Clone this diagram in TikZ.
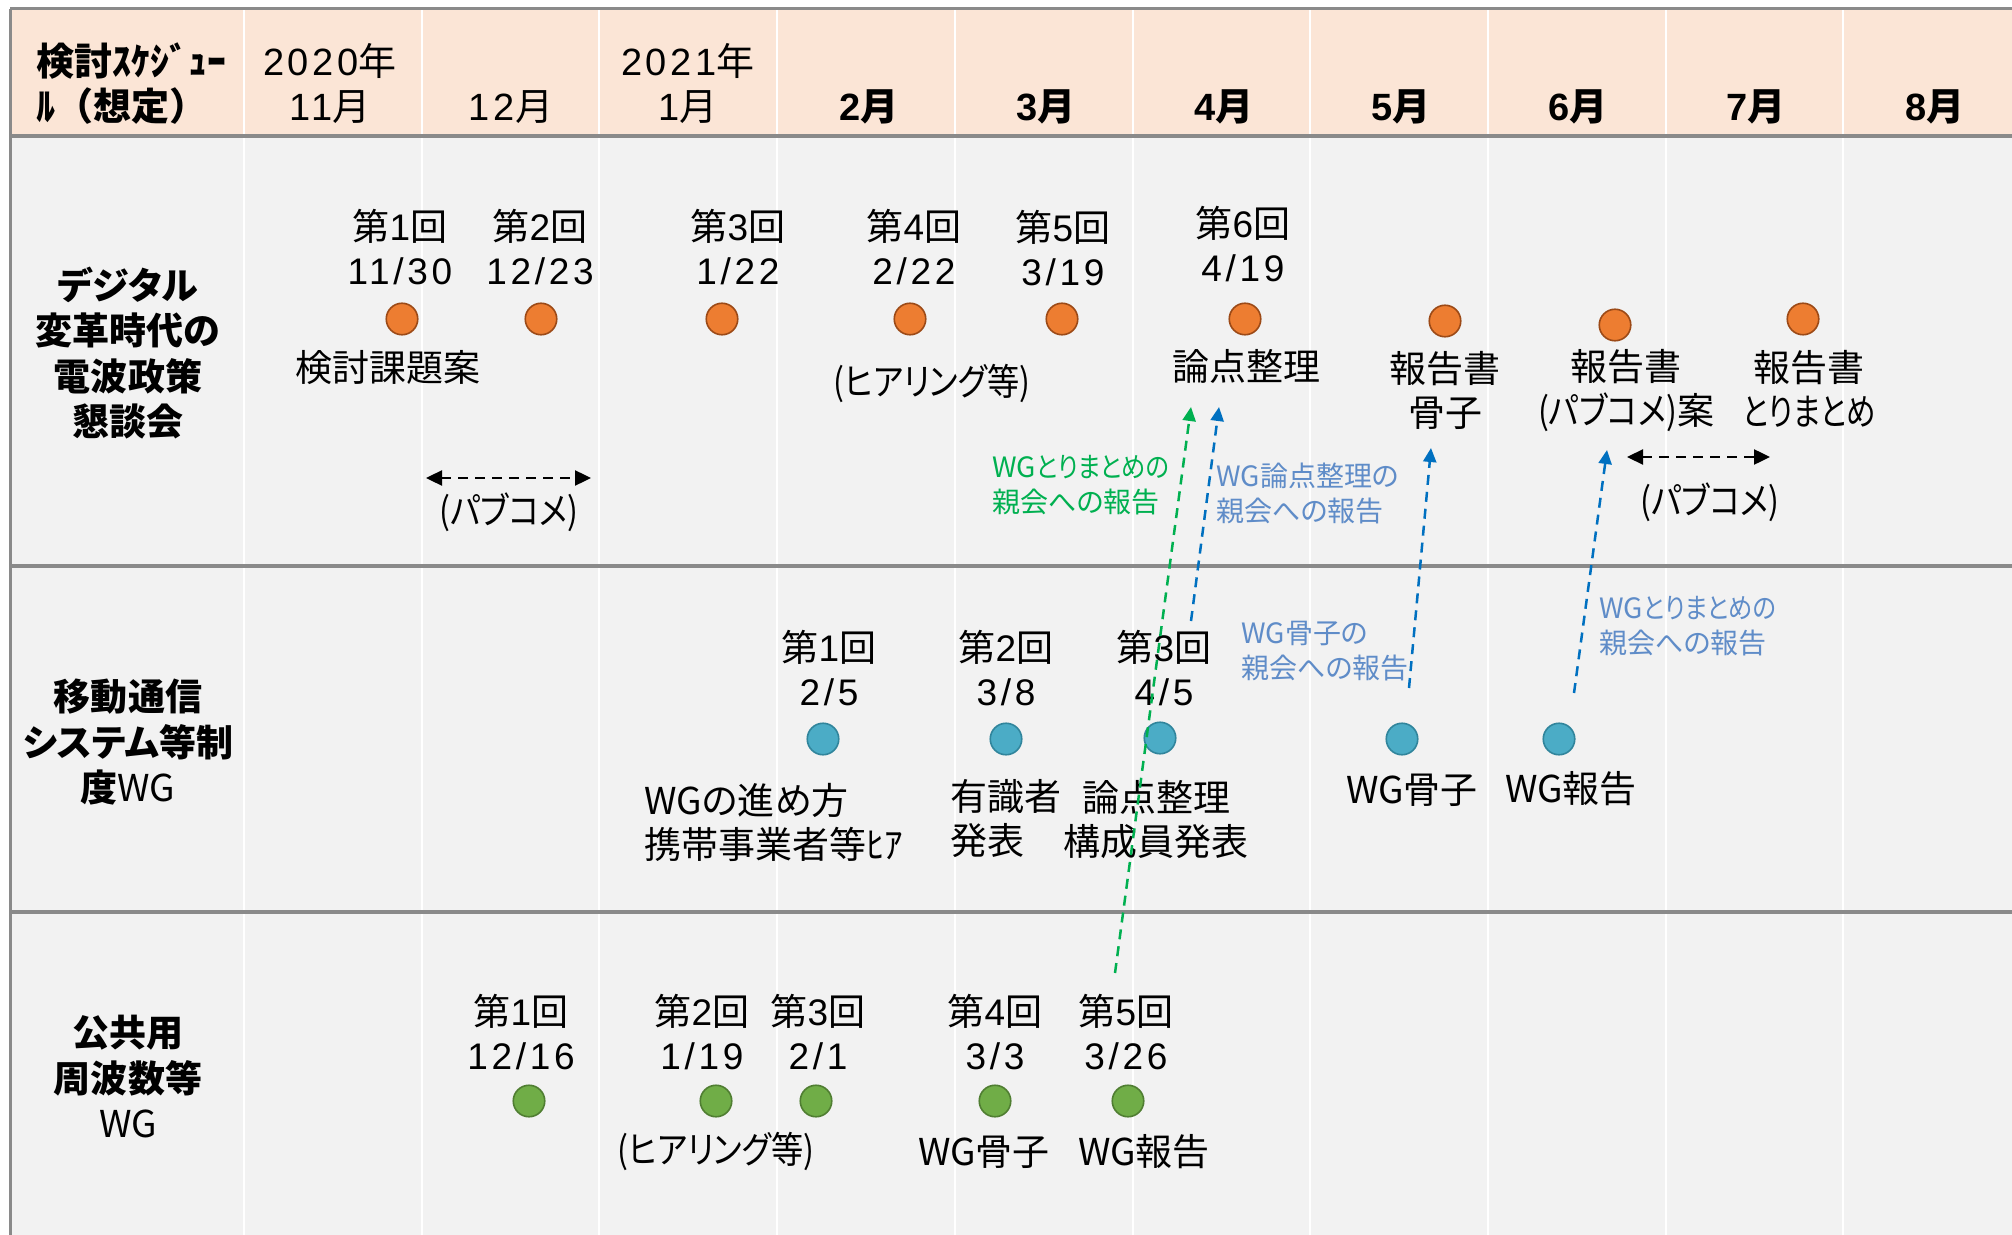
\documentclass[tikz,border=0pt]{standalone}
\usepackage{fontspec}
\setmainfont{Noto Sans CJK JP}[RawFeature=+palt]
\newfontfamily\nopalt{Noto Sans CJK JP}
\newfontfamily\latinf{Liberation Sans}[LetterSpace=10]
\usetikzlibrary{arrows.meta}
\definecolor{hdr}{HTML}{FBE5D6}
\definecolor{bodybg}{HTML}{F2F2F2}
\definecolor{gridgray}{HTML}{8A8A8A}
\definecolor{orfill}{HTML}{ED7D31}
\definecolor{ordraw}{HTML}{9C4A17}
\definecolor{blfill}{HTML}{4BACC6}
\definecolor{bldraw}{HTML}{31859C}
\definecolor{grfill}{HTML}{70AD47}
\definecolor{grdraw}{HTML}{507E32}
\definecolor{arrgreen}{HTML}{00B050}
\definecolor{arrblue}{HTML}{0070C0}
\definecolor{lblblue}{HTML}{5F8CC8}
\newcommand\Ls{\rule[-0.12em]{0pt}{1em}}
\newcommand\dd[1]{{\latinf #1}}
\newcommand\nar[1]{\scalebox{0.87}[1]{#1}}
\tikzset{
  lbl/.style={inner sep=0pt, align=center, font=\fontsize{18.5}{22}\selectfont},
  lbll/.style={lbl, align=left, anchor=west},
  hd/.style={inner sep=0pt, align=center, font=\fontsize{19}{22.5}\selectfont},
  hdb/.style={inner sep=0pt, align=center, font=\fontsize{19}{22.5}\selectfont\bfseries},
  rowlbl/.style={inner sep=0pt, align=center, font=\fontsize{18.5}{22.6}\selectfont\bfseries},
  notelbl/.style={inner sep=0pt, align=left, anchor=west, font=\fontsize{14}{17.5}\selectfont},
  evdot/.style={circle, minimum size=15.75pt, inner sep=0pt, line width=0.8pt},
  odot/.style={evdot, fill=orfill, draw=ordraw},
  bdot/.style={evdot, fill=blfill, draw=bldraw},
  gdot/.style={evdot, fill=grfill, draw=grdraw},
  rep/.style={dash pattern=on 5pt off 3.5pt, line width=1.25pt, -{Triangle[length=7pt,width=6.5pt]}},
  pubc/.style={black, dash pattern=on 5pt off 3.5pt, line width=1.2pt, {Triangle[length=8pt,width=7.5pt]}-{Triangle[length=8pt,width=7.5pt]}},
  hline/.style={gridgray, line width=2pt},
}
\begin{document}
\begin{tikzpicture}[x=0.5pt,y=-0.5pt]
\useasboundingbox (0,0) rectangle (2012,1235);
\fill[white] (0,0) rectangle (2012,1235);
% backgrounds
\fill[hdr] (10,9) rectangle (2012,136);
\fill[bodybg] (10,136) rectangle (2012,1235);
\foreach \k in {0,...,9} \draw[white, line width=1pt] ({244+177.7*\k},9) -- ({244+177.7*\k},1235);
\draw[gridgray, line width=1.5pt] (10,9) -- (2012,9);
\draw[hline] (10,136) -- (2012,136);
\draw[hline] (10,566) -- (2012,566);
\draw[hline] (10,912) -- (2012,912);
\draw[gridgray, line width=1.5pt] (10,9) -- (10,1235);

% header
\node[hdb, align=left, anchor=west] (hcorner) at (36,83.5) {\Ls 検討ｽｹｼﾞｭｰ\\\Ls {\nopalt ﾙ（想定）}};
\node[hd] (m11) at (330,83.5) {\Ls \dd{2020}年\\\Ls \dd{11}月};
\node[hd] (m12) at (511,106) {\Ls \dd{12}月};
\node[hd] (m01) at (688,83.5) {\Ls \dd{2021}年\\\Ls \dd{1}月};
\node[hdb] (m02) at (869,106) {\Ls \dd{2}月};
\node[hdb] (m03) at (1046,106) {\Ls \dd{3}月};
\node[hdb] (m04) at (1224,106) {\Ls \dd{4}月};
\node[hdb] (m05) at (1401,106) {\Ls \dd{5}月};
\node[hdb] (m06) at (1578,106) {\Ls \dd{6}月};
\node[hdb] (m07) at (1756,106) {\Ls \dd{7}月};
\node[hdb] (m08) at (1935,106) {\Ls \dd{8}月};

% row labels
\node[rowlbl] (row1) at (128,353.5) {\Ls デジタル\\\Ls 変革時代の\\\Ls 電波政策\\\Ls 懇談会};
\node[rowlbl] (row2) at (128,742) {\Ls 移動通信\\\Ls システム等制\\\Ls 度{\mdseries WG}};
\node[rowlbl] (row3) at (128,1078) {\Ls 公共用\\\Ls 周波数等\\\Ls {\mdseries WG}};

% row 1
\node[lbl] (a1) at (400,248) {\Ls 第\dd{1}回\\\Ls \dd{11/30}};
\node[lbl] (a2) at (540,248) {\Ls 第\dd{2}回\\\Ls \dd{12/23}};
\node[lbl] (a3) at (738,248) {\Ls 第\dd{3}回\\\Ls \dd{1/22}};
\node[lbl] (a4) at (914,248) {\Ls 第\dd{4}回\\\Ls \dd{2/22}};
\node[lbl] (a5) at (1063,249) {\Ls 第\dd{5}回\\\Ls \dd{3/19}};
\node[lbl] (a6) at (1243,245) {\Ls 第\dd{6}回\\\Ls \dd{4/19}};
\node[odot] (c1) at (402,319) {};
\node[odot] (c2) at (541,319) {};
\node[odot] (c3) at (722,319) {};
\node[odot] (c4) at (910,319) {};
\node[odot] (c5) at (1062,319) {};
\node[odot] (c6) at (1245,319) {};
\node[odot] (c7) at (1445,321) {};
\node[odot] (c8) at (1615,325) {};
\node[odot] (c9) at (1803,319) {};
\node[lbl] (b1) at (388,367) {\Ls 検討課題案};
\node[lbl] (b4) at (932,383) {\Ls \nar{(ヒアリング等)}};
\node[lbl] (b6) at (1246,366) {\Ls 論点整理};
\node[lbl] (b7) at (1445,390) {\Ls 報告書\\\Ls 骨子};
\node[lbl] (b8) at (1626,390) {\Ls 報告書\\\Ls \nar{(パブコメ)}案};
\node[lbl] (b9) at (1809,389) {\Ls 報告書\\\Ls \scalebox{0.8}[1]{とりまとめ}};
\node[lbl] (p1) at (509,512) {\Ls \nar{(パブコメ)}};
\node[lbl] (p2) at (1710,502) {\Ls \nar{(パブコメ)}};
\coordinate (p1a) at (426,478);
\coordinate (p1b) at (591,478);
\coordinate (p2a) at (1627,457);
\coordinate (p2b) at (1770,457);
\draw[pubc] (p1a) -- (p1b);
\draw[pubc] (p2a) -- (p2b);

% row 2
\node[lbl] (d1) at (829,669) {\Ls 第\dd{1}回\\\Ls \dd{2/5}};
\node[lbl] (d2) at (1006,669) {\Ls 第\dd{2}回\\\Ls \dd{3/8}};
\node[lbl] (d3) at (1164,669) {\Ls 第\dd{3}回\\\Ls \dd{4/5}};
\node[bdot] (e1) at (823,739) {};
\node[bdot] (e2) at (1006,739) {};
\node[bdot] (e3) at (1160,738) {};
\node[bdot] (e4) at (1402,739) {};
\node[bdot] (e5) at (1559,739) {};
\node[lbll] (f1) at (644,822) {\Ls WGの進め方\\\Ls 携帯事業者等ﾋｱ};
\node[lbll] (f2) at (950,818) {\Ls 有識者\\\Ls 発表};
\node[lbl] (f3) at (1156,819) {\Ls 論点整理\\\Ls 構成員発表};
\node[lbl] (f4) at (1412,789) {\Ls WG骨子};
\node[lbl] (f5) at (1571,788) {\Ls WG報告};

% row 3
\node[lbl] (g1) at (521,1033) {\Ls 第\dd{1}回\\\Ls \dd{12/16}};
\node[lbl] (g2) at (702,1033) {\Ls 第\dd{2}回\\\Ls \dd{1/19}};
\node[lbl] (g3) at (818,1033) {\Ls 第\dd{3}回\\\Ls \dd{2/1}};
\node[lbl] (g4) at (995,1033) {\Ls 第\dd{4}回\\\Ls \dd{3/3}};
\node[lbl] (g5) at (1126,1033) {\Ls 第\dd{5}回\\\Ls \dd{3/26}};
\node[gdot] (h1) at (529,1101) {};
\node[gdot] (h2) at (716,1101) {};
\node[gdot] (h3) at (816,1101) {};
\node[gdot] (h4) at (995,1101) {};
\node[gdot] (h5) at (1128,1101) {};
\node[lbl] (i2) at (716,1151) {\Ls \nar{(ヒアリング等)}};
\node[lbl] (i4) at (984,1151) {\Ls WG骨子};
\node[lbl] (i5) at (1144,1151) {\Ls WG報告};

% report arrows
\coordinate (gs) at (1115,973);
\coordinate (ge) at (1191,407);
\coordinate (bs1) at (1191,621);
\coordinate (be1) at (1219,407);
\coordinate (bs2) at (1409,688);
\coordinate (be2) at (1431,448);
\coordinate (bs3) at (1574,693);
\coordinate (be3) at (1607,450);
\draw[rep, arrgreen] (gs) -- (ge);
\draw[rep, arrblue] (bs1) -- (be1);
\draw[rep, arrblue] (bs2) -- (be2);
\draw[rep, arrblue] (bs3) -- (be3);
\node[notelbl, text=arrgreen] (n1) at (992,484.5) {\Ls WG\nar{とりまとめの}\\\Ls 親会への報告};
\node[notelbl, text=lblblue] (n2) at (1216,493) {\Ls WG論点整理の\\\Ls 親会への報告};
\node[notelbl, text=lblblue] (n3) at (1241,650) {\Ls WG骨子の\\\Ls 親会への報告};
\node[notelbl, text=lblblue] (n4) at (1599,625) {\Ls WG\nar{とりまとめの}\\\Ls 親会への報告};
\end{tikzpicture}
\end{document}
